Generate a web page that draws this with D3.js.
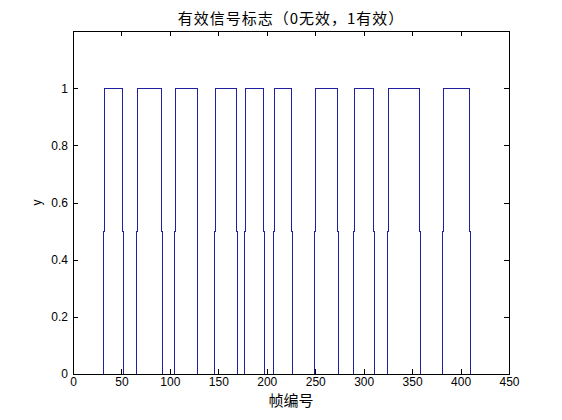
<!DOCTYPE html>
<html>
<head>
<meta charset="utf-8">
<script src="https://cdn.jsdelivr.net/npm/d3@7"></script>
<style>
  body { margin: 0; background: #fff; }
  text { fill: #000; }
</style>
</head>
<body>
<script>
// frames 1..frameCount, flag = 1 inside [validStart, validEnd]
const frameCount = 420;
const validStart = [32, 67, 106, 147, 178, 208, 250, 291, 326, 382];
const validEnd = [51, 91, 128, 169, 197, 226, 273, 310, 358, 409];

const xTicks = [0, 50, 100, 150, 200, 250, 300, 350, 400, 450];
const yTicks = [0, 0.2, 0.4, 0.6, 0.8, 1];

const titleText = '有效信号标志（0无效，1有效）';
const xLabel = '帧编号';
const yLabel = 'y';

const width = 562;
const height = 420;
const margin = { top: 31, right: 53, bottom: 46, left: 73 };
const w = width - margin.left - margin.right;
const h = height - margin.top - margin.bottom;

const numFont = '"Liberation Sans", Arial, sans-serif';
const cjkFont = '"Noto Sans CJK SC", "Liberation Sans", sans-serif';

// build frame table from the valid segments
const frames = [];
for (let i = 1; i <= frameCount; i++) {
    const on = validStart.some((s, k) => i >= s && i <= validEnd[k]);
    frames.push({ frame: i, flag: on ? 1 : 0 });
}

// steep segments drawn like an aliased plot: half at x0, half at x1
const jogCurve = (context) => {
    let prev = null;
    return {
        areaStart() {},
        areaEnd() {},
        lineStart() { prev = null; },
        lineEnd() {},
        point(px, py) {
            if (!prev) {
                context.moveTo(px, py);
            } else {
                if (prev[1] !== py) {
                    const my = (prev[1] + py) / 2;
                    context.lineTo(prev[0], my);
                    context.lineTo(px, my);
                }
                context.lineTo(px, py);
            }
            prev = [px, py];
        }
    };
};

const svg = d3.select('body')
    .append('svg')
    .attr('width', width)
    .attr('height', height);

const x = d3.scaleLinear().domain([0, 450]).range([0, w]);
const y = d3.scaleLinear().domain([0, 1.2]).range([h, 0]);

const g = svg.append('g')
    .attr('transform', `translate(${margin.left},${margin.top})`);

// the signal
g.append('path')
    .datum(frames)
    .attr('fill', 'none')
    .attr('stroke', '#1f1fa0')
    .attr('stroke-width', 1)
    .attr('shape-rendering', 'crispEdges')
    .attr('d', d3.line()
        .curve(jogCurve)
        .x((d) => x(d.frame))
        .y((d) => y(d.flag)));

// axes, ticks pointing inwards on all four sides
const styleAxis = (sel) => {
    sel.selectAll('path, line')
        .attr('stroke', '#000')
        .attr('shape-rendering', 'crispEdges');
    sel.selectAll('text')
        .attr('font-family', numFont)
        .attr('font-size', 12)
        .attr('fill', '#000');
};

g.append('g')
    .attr('transform', `translate(0,${h})`)
    .call(d3.axisBottom(x).tickValues(xTicks).tickSizeInner(-5).tickSizeOuter(0).tickPadding(3))
    .call(styleAxis);

g.append('g')
    .call(d3.axisTop(x).tickValues(xTicks).tickSizeInner(-5).tickSizeOuter(0).tickFormat(''))
    .call(styleAxis);

g.append('g')
    .call(d3.axisLeft(y).tickValues(yTicks).tickSizeInner(-5).tickSizeOuter(0).tickPadding(5)
        .tickFormat((d) => (d === 0 || d === 1 ? d3.format('d')(d) : d3.format('.1f')(d))))
    .call(styleAxis);

g.append('g')
    .attr('transform', `translate(${w},0)`)
    .call(d3.axisRight(y).tickValues(yTicks).tickSizeInner(-5).tickSizeOuter(0).tickFormat(''))
    .call(styleAxis);

g.selectAll('.domain').attr('stroke', '#000');

// title and labels
svg.append('text')
    .attr('x', margin.left + w / 2)
    .attr('y', 24)
    .attr('text-anchor', 'middle')
    .attr('font-family', cjkFont)
    .attr('font-size', 15)
    .attr('letter-spacing', 1)
    .text(titleText);

svg.append('text')
    .attr('x', margin.left + w / 2)
    .attr('y', 406)
    .attr('text-anchor', 'middle')
    .attr('font-family', cjkFont)
    .attr('font-size', 15)
    .text(xLabel);

svg.append('text')
    .attr('transform', `translate(41,${margin.top + y(0.6)}) rotate(-90)`)
    .attr('text-anchor', 'middle')
    .attr('font-family', numFont)
    .attr('font-size', 12)
    .text(yLabel);
</script>
</body>
</html>
